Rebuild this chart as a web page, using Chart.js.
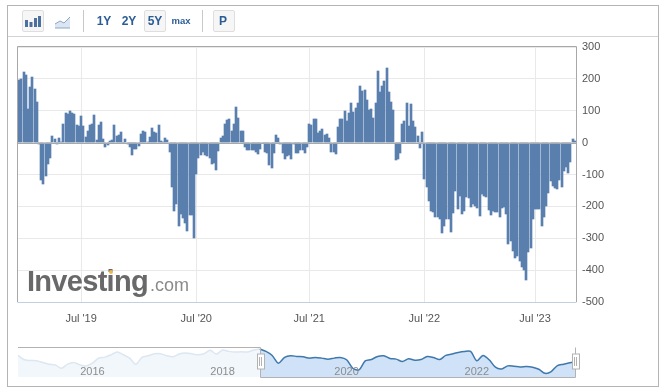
<!DOCTYPE html>
<html>
<head>
<meta charset="utf-8">
<title>Investing.com chart</title>
<script src="https://cdn.jsdelivr.net/npm/chart.js@4/dist/chart.umd.min.js"></script>
<style>
  html, body { margin: 0; padding: 0; background: #fff; }
  body { width: 664px; height: 392px; overflow: hidden; position: relative; font-family: "Liberation Sans", Arial, sans-serif; }
  canvas { position: absolute; left: 0; }
  #main-chart { top: 0; }
  #nav-chart { top: 340px; }
  .frame { position: absolute; left: 7px; top: 5px; width: 650px; height: 380px; border: 1px solid #b4b4b4; }
  .toolbar-line { position: absolute; left: 8px; top: 36px; width: 650px; height: 1px; background: #d4d4d4; }
  .sep { position: absolute; top: 10px; width: 1px; height: 22px; background: #c8c8c8; }
  .btn-box { position: absolute; top: 10px; width: 20px; height: 20px; background: #f6f6f6; border: 1px solid #dedede; border-radius: 2px; }
  .btn { position: absolute; top: 11px; width: 26px; height: 20px; line-height: 20px; text-align: center; font-size: 12px; font-weight: bold; color: #2b5d94; }
  .btn.small { font-size: 9.5px; }
  .icon { position: absolute; }
  .logo { position: absolute; left: 27px; top: 264px; white-space: nowrap; line-height: 34px; color: #696969; }
  .logo b { font-size: 29px; letter-spacing: -0.7px; }
  .logo span { font-size: 18px; color: #8a8a8a; margin-left: 2px; }
  .logo-dot { position: absolute; left: 109px; top: 270px; width: 4px; height: 4px; border-radius: 2px; background: #f0b84c; }
</style>
</head>
<body>
<canvas id="main-chart" width="664" height="340"></canvas>
<canvas id="nav-chart" width="664" height="52"></canvas>
<div class="frame"></div>
<div class="toolbar-line"></div>

<div class="btn-box" style="left:22px"></div>
<svg class="icon" style="left:24px;top:14px" width="18" height="14"><g fill="#4c719f"><rect x="1" y="6" width="3" height="7"/><rect x="5.5" y="8" width="3" height="5"/><rect x="10" y="4" width="3" height="9"/><rect x="14" y="2" width="3" height="11"/></g></svg>
<svg class="icon" style="left:54px;top:15px" width="18" height="14"><path d="M1 9 L6 6 L10 8 L16 2 L16 13 L1 13 Z" fill="#dbe6f2"/><path d="M1 9 L6 6 L10 8 L16 2" fill="none" stroke="#8aa6c4" stroke-width="1"/><path d="M1 13 H16" stroke="#8aa6c4" stroke-width="1"/></svg>
<div class="sep" style="left:83px"></div>
<div class="btn" style="left:91px">1Y</div>
<div class="btn" style="left:116px">2Y</div>
<div class="btn-box" style="left:144px"></div>
<div class="btn" style="left:142px">5Y</div>
<div class="btn small" style="left:168px">max</div>
<div class="sep" style="left:202px"></div>
<div class="btn-box" style="left:213px"></div>
<div class="btn" style="left:210px">P</div>

<div class="logo"><b>Investing</b><span>.com</span></div>
<div class="logo-dot"></div>

<script>
  /* Weekly values */
  var weekValues = [
    195, 200, 222, 213, 104, 173, 206, 168, 128, -3,
    -116, -129, -104, -68, -49, 22, 10, -5, 13, 2,
    60, 93, 91, 100, 93, 90, 54, 52, 85, 52,
    17, 38, 54, 60, 88, 7, 54, 66, 10, -15,
    -8, 5, 7, 54, 20, 23, 32, 0, 10, -5,
    -15, -39, -20, -19, -12, 26, 38, 34, 3, 18,
    45, 32, 29, 54, 4, 2,
    15, 7, -29, -138, -216, -192, -263, -224, -236, -252,
    -276, -227, -227, -300, -99, -49, -38, -29, -38, -42,
    -49, -67, -64, -85, -26, 15, 20, 57, 70, 73,
    38, 57, 112, 76, 36, 38, -15, -23, -23, -23,
    -23, -29, -35, -19, 0, -29, -34, -71, -80, -34,
    23, 15, -3, -31, -52, -42, -40, -52, -5, -33,
    -34, -24, -23, -33, -15,
    57, 54, 73, 73, 31, 37, 42, 23, 26, 14,
    -29, -29, -36, 48, 73, 73, 98, 67, 94, 123,
    96, 110, 123, 179, 162, 166, 135, 101, 107, 76,
    123, 226, 158, 177, 194, 235, 160, 129, 101, -54,
    -50, -31, 60, 67, 123, 51, 120, 67, 48, 20,
    -18, 32,
    -114, -138, -182, -213,
    -218, -234, -234, -241,
    -285, -260, -239, -239, -279,
    -220, -151, -208, -166, -224,
    -216, -172, -174, -201,
    -192, -198, -205, -229, -161,
    -166, -172, -211, -226, -215,
    -218, -218, -232, -205,
    -203, -224, -319, -309, -341,
    -361, -357, -372, -390, -401,
    -432, -343, -331, -239,
    -208, -208, -208, -263, -232,
    -198, -159, -120, -135, -142,
    -144, -118, -138, -88,
    -75, -95, -62, 10, 5
  ];
  var tickWeeks = [28, 80, 131, 183, 233];
  var tickLabels = ["Jul '19", "Jul '20", "Jul '21", "Jul '22", "Jul '23"];
  var yTicks = [300, 200, 100, 0, -100, -200, -300, -400, -500];

  /* Navigator line, height above the strip floor */
  var navValues = [
    64, 51, 49, 48, 43, 38, 36, 26, 38, 43,
    36, 33, 41, 56, 59, 66, 74, 66, 56, 38,
    58, 63, 69, 69, 63, 60, 68, 71, 69, 66,
    69, 79, 68, 80, 76, 74, 75, 74, 80, 83,
    76, 64, 41, 58, 63, 61, 60, 56, 58, 56,
    53, 56, 58, 51, 26, 21, 48, 52, 61, 63,
    55, 53, 46, 54, 50, 52, 61, 58, 52, 64,
    68, 73, 76, 76, 48, 64, 51, 29, 24, 33,
    32, 30, 31, 29, 23, 11, 16, 34, 38, 42, 46
  ];
  var navTickIdx = [12, 33, 53, 74];
  var navTickLabels = ['2016', '2018', '2020', '2022'];
  var navSelStart = 39;
  var navSelEnd = 90;

  var BAR_BLUE = '#5a7fae';
  var GRID = '#e9e9e9';
  var AXIS_GREY = '#a8a8a8';
  var TICK_TEXT = '#555555';
  var FONT = { family: '"Liberation Sans", Arial, sans-serif', size: 11 };

  // Highcharts style crisp columns: snap each bar to whole pixels
  var snapBars = {
    id: 'snapBars',
    afterDatasetsUpdate: function (chart) {
      chart.getDatasetMeta(0).data.forEach(function (el) {
        el.x = Math.round(el.x);
        el.y = Math.round(el.y);
        el.base = Math.round(el.base);
      });
    }
  };

  var plotFrame = {
    id: 'plotFrame',
    afterDatasetsDraw: function (chart) {
      var a = chart.chartArea;
      var ctx = chart.ctx;
      var zero = Math.round(chart.scales.y.getPixelForValue(0)) + 0.5;
      ctx.save();
      ctx.lineWidth = 1;
      ctx.strokeStyle = AXIS_GREY;
      ctx.beginPath();
      ctx.moveTo(a.left - 0.5, a.bottom);
      ctx.lineTo(a.left - 0.5, a.top - 0.5);
      ctx.lineTo(a.right + 0.5, a.top - 0.5);
      ctx.lineTo(a.right + 0.5, a.bottom);
      ctx.moveTo(a.left, zero);
      ctx.lineTo(a.right, zero);
      ctx.stroke();
      ctx.strokeStyle = '#c0d0e0';
      ctx.beginPath();
      ctx.moveTo(a.left - 0.5, a.bottom + 0.5);
      ctx.lineTo(a.right + 0.5, a.bottom + 0.5);
      ctx.stroke();
      ctx.restore();
    }
  };

  new Chart(document.getElementById('main-chart'), {
    type: 'bar',
    data: {
      labels: weekValues.map(function (v, i) { return i; }),
      datasets: [{ data: weekValues, backgroundColor: BAR_BLUE, barThickness: 2, borderWidth: 0 }]
    },
    options: {
      responsive: false,
      animation: false,
      layout: { padding: { left: 18, top: 47 } },
      plugins: { legend: { display: false }, tooltip: { enabled: false } },
      scales: {
        x: {
          grid: { color: GRID, offset: false, drawTicks: false },
          border: { display: false },
          ticks: {
            autoSkip: false, maxRotation: 0, color: TICK_TEXT, font: FONT, padding: 10,
            callback: function (value) {
              return tickLabels[tickWeeks.indexOf(value)];
            }
          },
          afterBuildTicks: function (scale) {
            scale.ticks = tickWeeks.map(function (w) { return { value: w }; });
          },
          afterFit: function (scale) { scale.height = 38; }
        },
        y: {
          position: 'right',
          min: -500,
          max: 300,
          grid: { color: GRID, drawTicks: false },
          border: { display: false },
          ticks: { color: TICK_TEXT, font: FONT, padding: 6, crossAlign: 'near', stepSize: 100 },
          afterBuildTicks: function (scale) {
            scale.ticks = yTicks.map(function (v) { return { value: v }; });
          },
          afterFit: function (scale) { scale.width = 88; }
        }
      }
    },
    plugins: [snapBars, plotFrame]
  });

  // Selection outline and the two drag handles of the navigator strip
  var navHandles = {
    id: 'navHandles',
    afterDatasetsDraw: function (chart) {
      var a = chart.chartArea;
      var ctx = chart.ctx;
      var left = Math.round(chart.scales.x.getPixelForValue(navSelStart)) + 0.5;
      var right = Math.round(chart.scales.x.getPixelForValue(navSelEnd)) - 0.5;
      ctx.save();
      ctx.lineWidth = 1;
      ctx.strokeStyle = '#b2b2b2';
      ctx.beginPath();
      ctx.moveTo(a.left, a.top + 0.5);
      ctx.lineTo(left, a.top + 0.5);
      ctx.lineTo(left, a.bottom + 0.5);
      ctx.lineTo(right, a.bottom + 0.5);
      ctx.lineTo(right, a.top + 0.5);
      ctx.stroke();
      [left, right].forEach(function (x) {
        ctx.fillStyle = '#ffffff';
        ctx.fillRect(x - 3, a.top + 7, 7, 15);
        ctx.strokeRect(x - 3, a.top + 7, 7, 15);
        ctx.beginPath();
        ctx.moveTo(x - 1, a.top + 10);
        ctx.lineTo(x - 1, a.top + 19);
        ctx.moveTo(x + 1, a.top + 10);
        ctx.lineTo(x + 1, a.top + 19);
        ctx.stroke();
      });
      ctx.restore();
    }
  };

  new Chart(document.getElementById('nav-chart'), {
    type: 'line',
    data: {
      labels: navValues.map(function (v, i) { return i; }),
      datasets: [
        // first dataset is painted last, so the selected range sits on top
        {
          data: navValues.map(function (v, i) { return i < navSelStart ? null : v; }),
          borderColor: '#3f78ab', backgroundColor: '#cfe2f8', borderWidth: 1.5, fill: 'origin', pointRadius: 0, tension: 0.3
        },
        {
          data: navValues.map(function (v, i) { return i > navSelStart ? null : v; }),
          borderColor: '#dce7f2', backgroundColor: '#f2f7fc', borderWidth: 1.5, fill: 'origin', pointRadius: 0, tension: 0.3
        }
      ]
    },
    options: {
      responsive: false,
      animation: false,
      layout: { padding: { left: 18, right: 88, top: 7, bottom: 15 } },
      plugins: { legend: { display: false }, tooltip: { enabled: false } },
      scales: {
        x: {
          grid: { display: false, drawTicks: false },
          border: { display: false },
          ticks: {
            // mirror keeps the labels from being clipped to the zero height axis
            autoSkip: false, maxRotation: 0, color: '#8c8c8c', font: FONT, mirror: true, padding: -2, z: 1,
            callback: function (value) {
              return navTickLabels[navTickIdx.indexOf(value)];
            }
          },
          afterBuildTicks: function (scale) {
            scale.ticks = navTickIdx.map(function (v) { return { value: v }; });
          },
          afterFit: function (scale) { scale.height = 0; }
        },
        y: { display: false, min: 0, max: 89 }
      }
    },
    plugins: [navHandles]
  });
</script>
</body>
</html>
